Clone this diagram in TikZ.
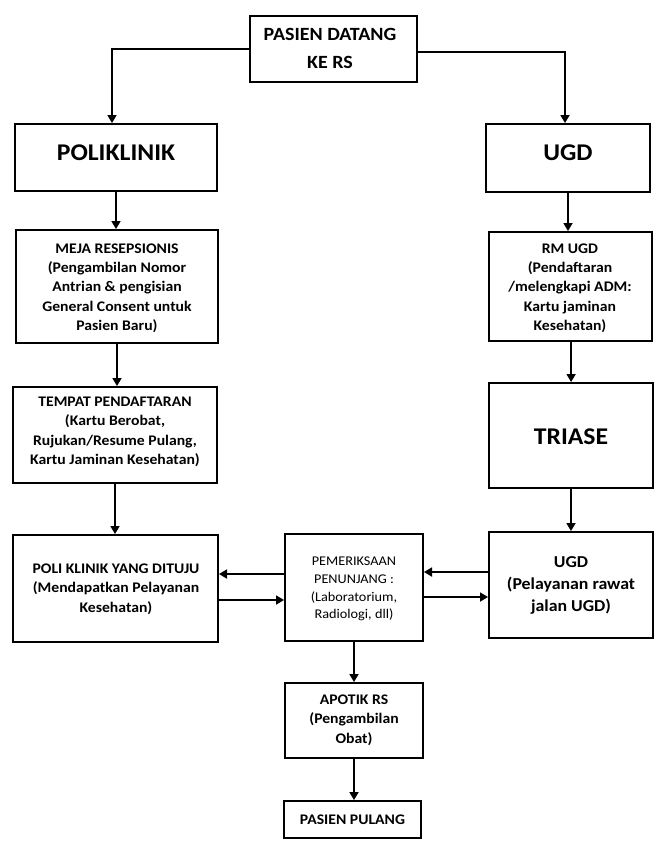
\documentclass[tikz,border=0pt]{standalone}
\usepackage{fontspec}
\setmainfont{Carlito}[FakeStretch=1.07]
\usetikzlibrary{arrows.meta,fit,calc}
\begin{document}
\begin{tikzpicture}[x=0.75pt,y=-0.75pt,
  box/.style={draw,line width=1.5pt,inner sep=0pt,rectangle},
  txt/.style={align=center,inner sep=0pt,font=\bfseries\fontsize{11pt}{14.5pt}\selectfont},
  arr/.style={line width=1.15pt,-{Triangle[width=6.8pt,length=6pt]}},
  ln/.style={line width=1.15pt}]
\useasboundingbox (0,0) rectangle (664,854);
\fill[white] (0,0) rectangle (664,854);
% boxes
\node[box,fit={(250,16) (417,82)}] (top) {};
\node[box,fit={(15,124) (217,191)}] (poliklinik) {};
\node[box,fit={(486,124) (650,192)}] (ugdtop) {};
\node[box,fit={(16,230) (218,343)}] (meja) {};
\node[box,fit={(489,232) (652,341)}] (rmugd) {};
\node[box,fit={(13,387) (217,483)}] (tempat) {};
\node[box,fit={(489,383) (653,488)}] (triase) {};
\node[box,fit={(13,535) (218,642)}] (poli2) {};
\node[box,fit={(285,534) (423,641)}] (pem) {};
\node[box,fit={(489,532) (653,638)}] (ugd2) {};
\node[box,fit={(285,683) (423,758)}] (apotik) {};
\node[box,fit={(284,801) (421,838)}] (pulang) {};
% texts
\node[txt,font=\bfseries\fontsize{14pt}{21pt}\selectfont] (ttop) at (330,48) {PASIEN DATANG\\KE RS};
\node[txt,font=\bfseries\fontsize{18pt}{21pt}\selectfont] (tpoliklinik) at (116,153) {POLIKLINIK};
\node[txt,font=\bfseries\fontsize{18pt}{21pt}\selectfont] (tugdtop) at (568,153) {UGD};
\node[txt] (tmeja) at (117,288) {MEJA RESEPSIONIS\\(Pengambilan Nomor\\Antrian \& pengisian\\General Consent untuk\\Pasien Baru)};
\node[txt] (trmugd) at (570,288) {RM UGD\\(Pendaftaran\\/melengkapi ADM:\\Kartu jaminan\\Kesehatan)};
\node[txt] (ttempat) at (115,432) {TEMPAT PENDAFTARAN\\(Kartu Berobat,\\Rujukan/Resume Pulang,\\Kartu Jaminan Kesehatan)};
\node[txt,font=\bfseries\fontsize{18pt}{20pt}\selectfont] (ttriase) at (571,437) {TRIASE};
\node[txt] (tpoli2) at (116,589) {POLI KLINIK YANG DITUJU\\(Mendapatkan Pelayanan\\Kesehatan)};
\node[txt,font=\fontsize{10pt}{13.3pt}\selectfont] (tpem) at (354,589) {PEMERIKSAAN\\PENUNJANG :\\(Laboratorium,\\Radiologi, dll)};
\node[txt,font=\bfseries\fontsize{12.5pt}{16.5pt}\selectfont] (tugd2) at (571,585) {UGD\\(Pelayanan rawat\\jalan UGD)};
\node[txt] (tapotik) at (354,720) {APOTIK RS\\(Pengambilan\\Obat)};
\node[txt] (tpulang) at (352.5,820) {PASIEN PULANG};
% connectors
\coordinate (l1) at ($(top.west)+(0,0)$);
\coordinate (r1) at ($(top.east)+(0,3)$);
\coordinate (pk) at ($(poliklinik.north)+(-4,0)$);
\coordinate (ug) at ($(ugdtop.north)+(-3,0)$);
\coordinate (rs) at ($(rmugd.south)+(0.6,0)$);
\draw[arr] (l1) -| (pk);
\draw[arr] (r1) -| (ug);
\draw[arr] (poliklinik.south) -- (poliklinik.south |- meja.north);
\draw[arr] (meja.south) -- (meja.south |- tempat.north);
\draw[arr] (tempat.south) -- (tempat.south |- poli2.north);
\draw[arr] (ugdtop.south) -- (ugdtop.south |- rmugd.north);
\draw[arr] (rs) -- (rs |- triase.north);
\draw[arr] (triase.south) -- (triase.south |- ugd2.north);
\coordinate (a1) at ($(pem.west)+(0,-13.5)$);
\coordinate (a2) at ($(pem.west)+(0,12.5)$);
\coordinate (b1) at ($(ugd2.west)+(0,-13)$);
\coordinate (b2) at ($(ugd2.west)+(0,12)$);
\draw[arr] (a1) -- (a1 -| poli2.east);
\draw[arr] (a2 -| poli2.east) -- (a2);
\draw[arr] (b1) -- (b1 -| pem.east);
\draw[arr] (b2 -| pem.east) -- (b2);
\draw[arr] (pem.south) -- (pem.south |- apotik.north);
\draw[arr] (apotik.south) -- (apotik.south |- pulang.north);
\end{tikzpicture}
\end{document}
